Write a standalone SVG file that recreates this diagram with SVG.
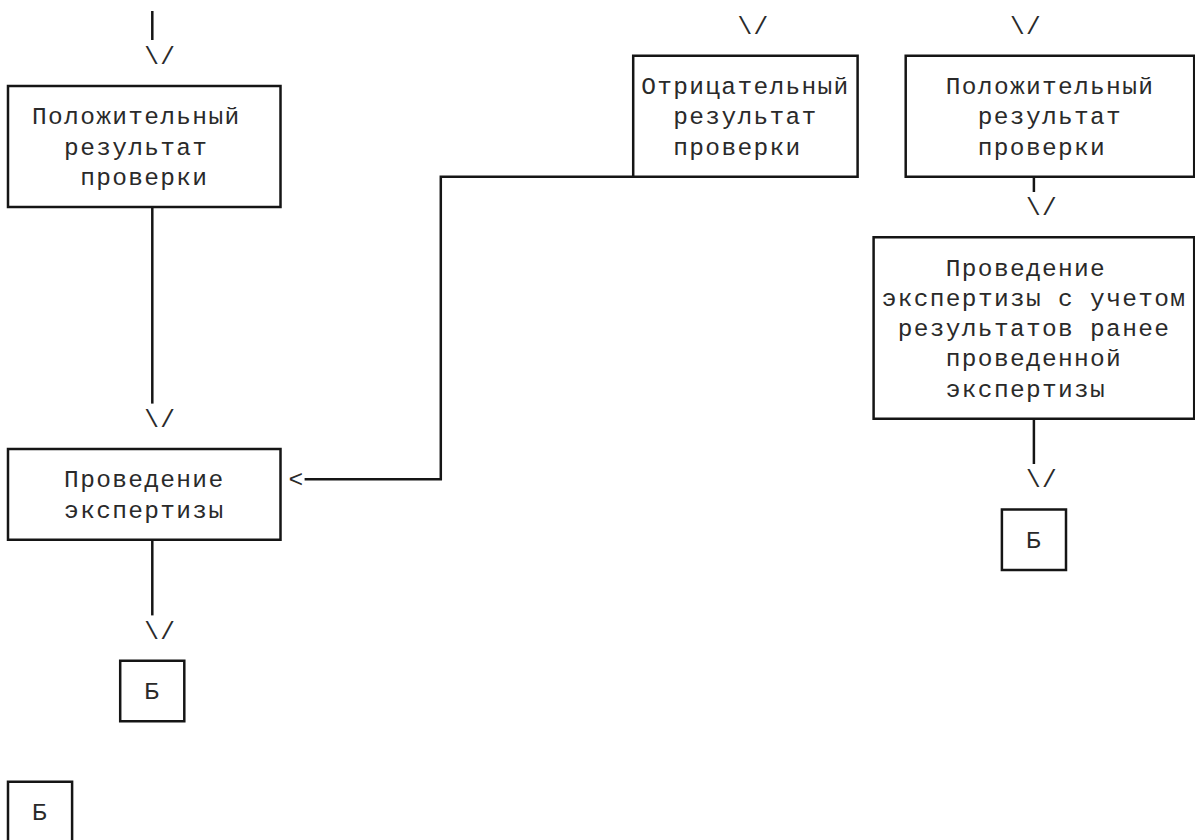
<svg xmlns="http://www.w3.org/2000/svg" width="1195" height="840" viewBox="0 0 1195 840">
<style>
  .box { fill: none; stroke: #151515; stroke-width: 2.5; }
  .ln { fill: none; stroke: #151515; stroke-width: 2.5; }
  .t { font-family: "Courier New", "Liberation Mono", monospace; font-size: 24.5px; letter-spacing: 1.33px; fill: #2a2a2a; }
</style>
<rect width="1195" height="840" fill="#ffffff"/>
<g id="connectors">
  <line class="ln" x1="152.3" y1="11" x2="152.3" y2="40"/>
  <text class="t" x="144.3" y="63.75">\/</text>
  <line class="ln" x1="152.3" y1="207" x2="152.3" y2="403.6"/>
  <text class="t" x="144.3" y="426.75">\/</text>
  <line class="ln" x1="152.3" y1="539.75" x2="152.3" y2="615.4"/>
  <text class="t" x="144.3" y="638.5">\/</text>
  <text class="t" x="737.4" y="33.5">\/</text>
  <text class="t" x="1009.9" y="33.5">\/</text>
  <polyline class="ln" points="633.2,176.75 440.8,176.75 440.8,479.25 304.6,479.25"/>
  <text class="t" x="288.5" y="487.25">&lt;</text>
  <line class="ln" x1="1033.9" y1="176.75" x2="1033.9" y2="192"/>
  <text class="t" x="1025.9" y="215">\/</text>
  <line class="ln" x1="1033.9" y1="418.75" x2="1033.9" y2="464"/>
  <text class="t" x="1025.9" y="487.25">\/</text>
</g>
<g id="node-pos-left">
  <rect class="box" x="8" y="86" width="272.5" height="121"/>
  <text class="t" x="32.06" y="124.25">Положительный</text>
  <text class="t" x="64.12" y="154.5">результат</text>
  <text class="t" x="80.15" y="184.75">проверки</text>
</g>
<g id="node-neg">
  <rect class="box" x="633.2" y="55.75" width="224.4" height="121"/>
  <text class="t" x="641.2" y="94">Отрицательный</text>
  <text class="t" x="673.3" y="124.25">результат</text>
  <text class="t" x="673.3" y="154.5">проверки</text>
</g>
<g id="node-pos-right">
  <rect class="box" x="905.7" y="55.75" width="288.5" height="121"/>
  <text class="t" x="945.8" y="94">Положительный</text>
  <text class="t" x="977.8" y="124.25">результат</text>
  <text class="t" x="977.8" y="154.5">проверки</text>
</g>
<g id="node-exp-left">
  <rect class="box" x="8" y="449" width="272.5" height="90.75"/>
  <text class="t" x="64.12" y="487.25">Проведение</text>
  <text class="t" x="64.12" y="517.5">экспертизы</text>
</g>
<g id="node-b-left">
  <rect class="box" x="120.2" y="660.75" width="64.1" height="60.5"/>
  <text class="t" x="144.3" y="699">Б</text>
</g>
<g id="node-b-bottom">
  <rect class="box" x="8" y="781.75" width="64.1" height="60.5"/>
  <text class="t" x="32.06" y="820">Б</text>
</g>
<g id="node-exp-right">
  <rect class="box" x="873.6" y="237.25" width="320.6" height="181.5"/>
  <text class="t" x="945.8" y="275.5">Проведение</text>
  <text class="t" x="881.7" y="305.75">экспертизы с учетом</text>
  <text class="t" x="897.7" y="336">результатов ранее</text>
  <text class="t" x="945.8" y="366.25">проведенной</text>
  <text class="t" x="945.8" y="396.5">экспертизы</text>
</g>
<g id="node-b-right">
  <rect class="box" x="1001.9" y="509.5" width="64.1" height="60.5"/>
  <text class="t" x="1025.9" y="547.75">Б</text>
</g>
</svg>
